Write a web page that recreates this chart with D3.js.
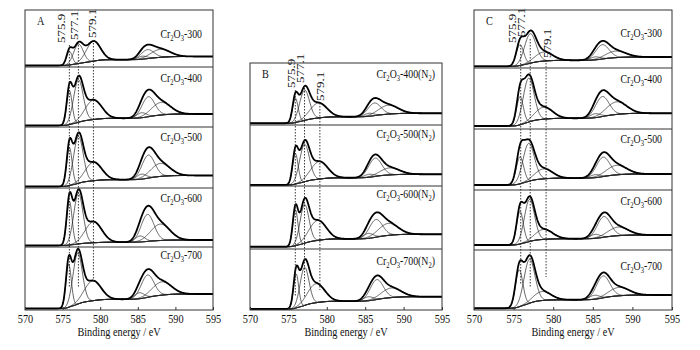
<!DOCTYPE html>
<html>
<head>
<meta charset="utf-8">
<script src="https://cdn.jsdelivr.net/npm/d3@7"></script>
<style>
  body { margin: 0; background: #fff; }
  svg { display: block; }
  text { font-family: "Liberation Serif", "Times New Roman", serif; fill: #111; }
</style>
</head>
<body>
<div id="chart"></div>
<script>
// x axis (binding energy, eV)
var xTicks = [570, 575, 580, 585, 590, 595];
var refLines = ["575.9", "577.1", "579.1"];

// samples in each panel
var tempsA = ["300", "400", "500", "600", "700"];
var tempsB = ["400", "500", "600", "700"];
var tempsC = ["300", "400", "500", "600", "700"];

// fitted components of each spectrum: centre (eV), height, FWHM (eV)
var centresA = [
  [575.9, 577.1, 579.1, 585.6, 586.3, 588.0],
  [575.9, 577.1, 579.1, 585.5, 586.4, 588.1],
  [575.9, 577.1, 579.1, 585.5, 586.4, 588.0],
  [575.9, 577.1, 579.1, 585.3, 586.3, 588.0],
  [575.8, 577.0, 579.0, 585.2, 586.3, 588.2]];
var heightsA = [
  [13.6, 19.5, 20, 3, 9, 8],
  [34, 42.5, 19.5, 5, 20, 12.6],
  [38, 47, 18.5, 5, 23, 13],
  [44, 50.5, 21, 6, 27, 16.4],
  [43, 51, 20, 6, 22.4, 13.3]];
var widthsA = [
  [0.9, 1.5, 2.2, 1.5, 2.0, 3.0],
  [0.85, 1.5, 2.6, 1.5, 2.0, 3.0],
  [0.85, 1.5, 2.6, 1.5, 2.0, 3.0],
  [0.85, 1.45, 2.6, 1.5, 2.0, 3.0],
  [0.85, 1.45, 2.6, 1.5, 2.0, 3.0]];
var bgA = [[1.5, 10.5], [1.5, 13], [1.5, 12.5], [1.5, 7], [1.5, 16]];

var centresB = [
  [575.9, 577.1, 578.9, 585.5, 586.2, 588.0],
  [575.9, 577.1, 579.0, 585.5, 586.3, 588.2],
  [575.9, 577.1, 578.8, 585.4, 586.4, 588.0],
  [576.0, 577.1, 578.6, 585.4, 586.5, 588.4]];
var heightsB = [
  [24.3, 30.3, 15, 3, 12.6, 8.9],
  [30.6, 37.4, 17.5, 3, 18.3, 7],
  [36, 38.7, 20, 5, 17.7, 12],
  [34, 38.2, 19, 4, 19.9, 9.6]];
var widthsB = [
  [0.85, 1.5, 2.6, 1.5, 2.0, 3.0],
  [0.85, 1.5, 2.6, 1.5, 2.0, 3.0],
  [0.8, 1.35, 2.6, 1.5, 2.0, 3.0],
  [0.8, 1.35, 2.6, 1.5, 2.0, 3.0]];
var bgB = [[1.7, 11.7], [1, 11.7], [2.3, 14.7], [1, 13.3]];

var centresC = [
  [575.8, 577.1, 578.8, 585.3, 586.2, 587.9],
  [575.8, 576.9, 578.8, 585.3, 586.2, 588.0],
  [575.8, 576.9, 578.8, 585.3, 586.3, 588.0],
  [575.8, 577.0, 578.8, 585.3, 586.4, 588.2],
  [575.7, 577.0, 578.6, 585.2, 586.3, 588.3]];
var heightsC = [
  [20.8, 29.5, 9, 3, 14.3, 6.6],
  [28.3, 44, 12, 4, 20, 12.6],
  [27, 38, 10, 3, 19.4, 9.5],
  [32.6, 42.1, 10, 4, 20.7, 8.6],
  [36.9, 44.2, 9, 4, 22, 8.4]];
var widthsC = [
  [1.1, 1.7, 2.6, 1.5, 2.0, 3.0],
  [1.0, 1.6, 2.6, 1.5, 2.0, 3.0],
  [1.1, 1.7, 2.6, 1.5, 2.0, 3.0],
  [1.0, 1.5, 2.6, 1.5, 2.0, 3.0],
  [1.1, 1.6, 2.6, 1.5, 2.0, 3.0]];
var bgC = [[1.6, 11], [3, 15.7], [5, 16], [5, 15], [1.7, 15]];

// layout of the three panels
var panels = [
  {letter: "A", left: 25, right: 213, rows: [10, 67, 127, 188, 247, 310], temps: tempsA, suffix: false,
   centres: centresA, heights: heightsA, widths: widthsA, bgs: bgA,
   labelY: [38, 82, 141, 202, 259], inset: 11, letterY: 25,
   refDx: [-4, 0, 3], refBottom: [43, 40, 38], refEnd: [287, 287, 282]},
  {letter: "B", left: 250, right: 442, rows: [63, 125, 186, 249, 310], temps: tempsB, suffix: true,
   centres: centresB, heights: heightsB, widths: widthsB, bgs: bgB,
   labelY: [78, 138, 198, 265], inset: 7, letterY: 78,
   refDx: [0, -1, 4], refBottom: [88, 83, 101], refEnd: [297, 297, 290]},
  {letter: "C", left: 474, right: 672, rows: [10, 68, 129, 190, 250, 310], temps: tempsC, suffix: false,
   centres: centresC, heights: heightsC, widths: widthsC, bgs: bgC,
   labelY: [37, 83, 143, 205, 270], inset: 10, letterY: 25,
   refDx: [-5, -5, 5], refBottom: [43, 37, 58], refEnd: [285, 288, 277]}
];

var squeeze = 0.82; // the printed figure is narrower than tall
var grid = d3.range(570, 595.0001, 0.05);

var svg = d3.select("#chart").append("svg")
  .attr("width", 700)
  .attr("height", 350);

// peaks on a Shirley-type background
function spectrum(c, h, w, bg) {
  function gauss(e, i) {
    return h[i] * Math.exp(-4 * Math.LN2 * Math.pow((e - c[i]) / w[i], 2));
  }
  var sum = grid.map(function(e) { return d3.sum(c, function(_, i) { return gauss(e, i); }); });
  var cum = Array.from(d3.cumsum(sum));
  var tot = cum[cum.length - 1];
  var back = cum.map(function(a) { return bg[0] + (bg[1] - bg[0]) * a / tot; });
  var comps = c.map(function(_, i) {
    return grid.map(function(e, k) { return back[k] + gauss(e, i); });
  });
  var env = sum.map(function(s, k) { return back[k] + s; });
  return {back: back, comps: comps, env: env};
}

function sampleLabel(g, x, y, temp, n2) {
  var t = g.append("text")
    .attr("transform", "translate(" + x + "," + y + ") scale(" + squeeze + ",1)")
    .attr("text-anchor", "end")
    .attr("font-size", 12);
  t.append("tspan").text("Cr");
  t.append("tspan").attr("font-size", 8).attr("dy", 3).text("2");
  t.append("tspan").attr("dy", -3).text("O");
  t.append("tspan").attr("font-size", 8).attr("dy", 3).text("3");
  t.append("tspan").attr("dy", -3).text("-" + temp + (n2 ? "(N" : ""));
  if (n2) {
    t.append("tspan").attr("font-size", 8).attr("dy", 3).text("2");
    t.append("tspan").attr("dy", -3).text(")");
  }
}

panels.forEach(function(p, pi) {
  var g = svg.append("g");
  var x = d3.scaleLinear().domain([570, 595]).range([p.left, p.right]);
  var top = p.rows[0], bottom = p.rows[p.rows.length - 1];

  // spectra
  p.temps.forEach(function(temp, r) {
    var y0 = p.rows[r], y1 = p.rows[r + 1];
    var y = d3.scaleLinear().domain([0, 60]).range([y1, y1 - 60]);
    var s = spectrum(p.centres[r], p.heights[r], p.widths[r], p.bgs[r]);
    var line = d3.line()
      .x(function(d, k) { return x(grid[k]); })
      .y(function(d) { return y(d); });

    var clipId = "clip" + pi + "_" + r;
    g.append("clipPath").attr("id", clipId)
      .append("rect")
      .attr("x", p.left).attr("y", y0)
      .attr("width", p.right - p.left).attr("height", y1 - y0);
    var sg = g.append("g").attr("clip-path", "url(#" + clipId + ")");

    sg.append("path").datum(s.back)
      .attr("d", line).attr("fill", "none")
      .attr("stroke", "#222").attr("stroke-width", 0.8);
    s.comps.forEach(function(cp) {
      sg.append("path").datum(cp)
        .attr("d", line).attr("fill", "none")
        .attr("stroke", "#222").attr("stroke-width", 0.7);
    });
    sg.append("path").datum(s.env)
      .attr("d", line).attr("fill", "none")
      .attr("stroke", "#000").attr("stroke-width", 1.8)
      .attr("stroke-linejoin", "round");

    sampleLabel(g, p.right - p.inset, p.labelY[r], temp, p.suffix);
  });

  // reference lines and their labels
  refLines.forEach(function(v, i) {
    var xv = x(+v);
    g.append("line")
      .attr("x1", xv).attr("x2", xv)
      .attr("y1", p.refBottom[i] + 2).attr("y2", p.refEnd[i])
      .attr("stroke", "#222").attr("stroke-width", 0.9)
      .attr("stroke-dasharray", "1.5,1.5");
    g.append("text")
      .attr("transform", "translate(" + (xv + p.refDx[i]) + "," + p.refBottom[i] + ") scale(" + squeeze + ",1) rotate(-90)")
      .attr("font-size", 13)
      .text(v);
  });

  // frame and row dividers
  g.append("rect")
    .attr("x", p.left).attr("y", top)
    .attr("width", p.right - p.left).attr("height", bottom - top)
    .attr("fill", "none").attr("stroke", "#333").attr("stroke-width", 1);
  p.rows.slice(1, -1).forEach(function(yy) {
    g.append("line")
      .attr("x1", p.left).attr("x2", p.right)
      .attr("y1", yy).attr("y2", yy)
      .attr("stroke", "#333").attr("stroke-width", 1);
  });

  // bottom axis with inward ticks
  var axis = g.append("g")
    .attr("transform", "translate(0," + bottom + ")")
    .call(d3.axisBottom(x).tickValues(xTicks).tickSizeInner(-3).tickSizeOuter(0).tickPadding(4));
  axis.select(".domain").remove();
  axis.selectAll("line").attr("stroke", "#333");
  axis.selectAll("text")
    .attr("font-size", 12.5)
    .attr("font-family", "Liberation Serif, serif")
    .attr("fill", "#111")
    .attr("transform", "scale(" + squeeze + ",1)");

  g.append("text")
    .attr("transform", "translate(" + ((p.left + p.right) / 2) + ",336) scale(" + squeeze + ",1)")
    .attr("text-anchor", "middle")
    .attr("font-size", 12.5)
    .text("Binding energy / eV");

  g.append("text")
    .attr("transform", "translate(" + (p.left + 12) + "," + p.letterY + ") scale(" + squeeze + ",1)")
    .attr("font-size", 12.5)
    .text(p.letter);
});
</script>
</body>
</html>
